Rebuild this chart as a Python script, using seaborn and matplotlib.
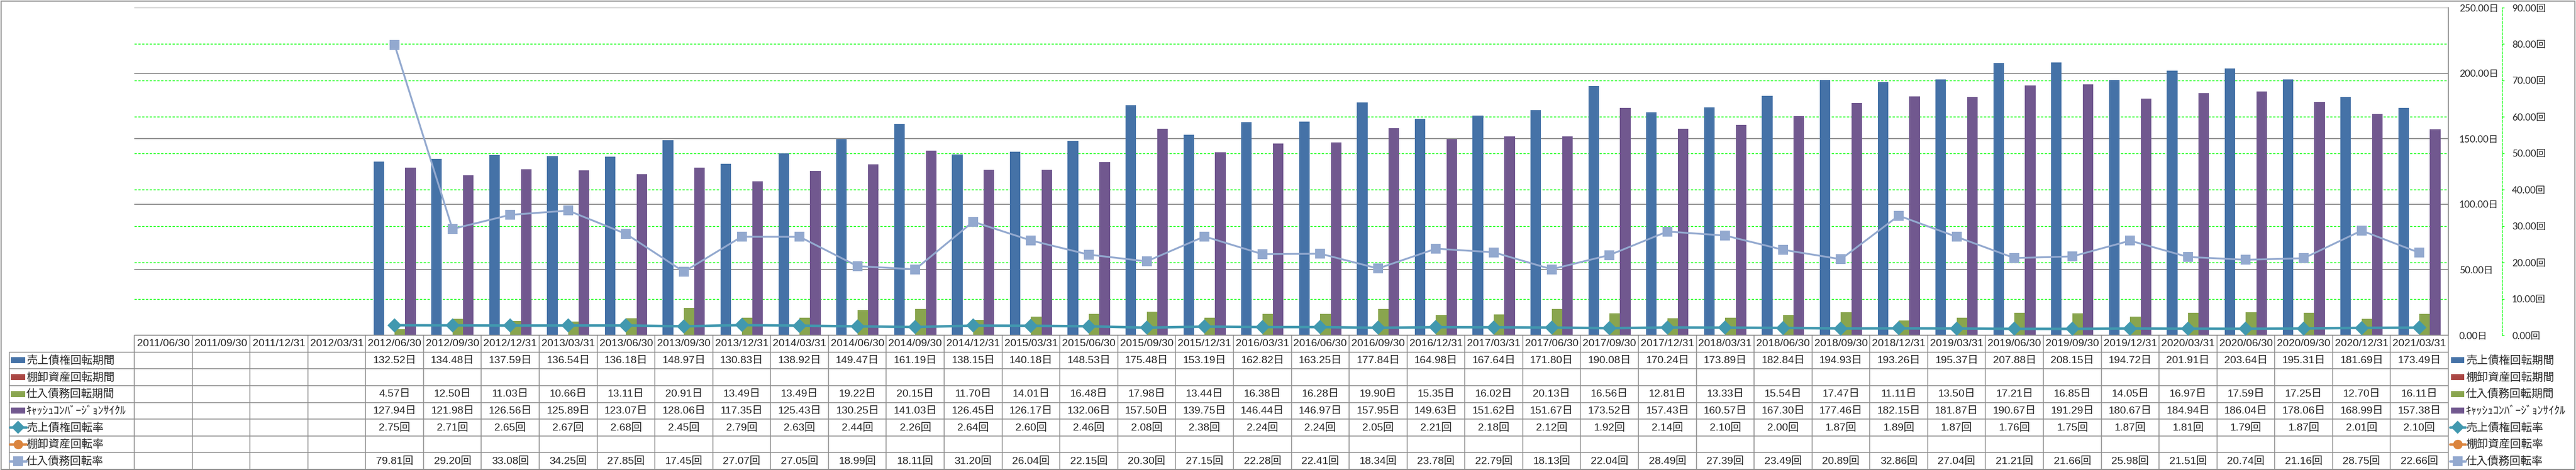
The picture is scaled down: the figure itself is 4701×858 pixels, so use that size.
import numpy as np
import pandas as pd
import matplotlib
matplotlib.use("Agg")
import matplotlib.pyplot as plt
import seaborn as sns
from matplotlib import font_manager
from matplotlib.patches import Rectangle
from matplotlib.ticker import FixedLocator, FuncFormatter

# 決算期（四半期）
dates = [
    "2011/06/30", "2011/09/30", "2011/12/31", "2012/03/31",
    "2012/06/30", "2012/09/30", "2012/12/31", "2013/03/31",
    "2013/06/30", "2013/09/30", "2013/12/31", "2014/03/31",
    "2014/06/30", "2014/09/30", "2014/12/31", "2015/03/31",
    "2015/06/30", "2015/09/30", "2015/12/31", "2016/03/31",
    "2016/06/30", "2016/09/30", "2016/12/31", "2017/03/31",
    "2017/06/30", "2017/09/30", "2017/12/31", "2018/03/31",
    "2018/06/30", "2018/09/30", "2018/12/31", "2019/03/31",
    "2019/06/30", "2019/09/30", "2019/12/31", "2020/03/31",
    "2020/06/30", "2020/09/30", "2020/12/31", "2021/03/31",
]

# 日数（棒）
receivable_days = [
    None, None, None, None,
    132.52, 134.48, 137.59, 136.54, 136.18, 148.97, 130.83, 138.92,
    149.47, 161.19, 138.15, 140.18, 148.53, 175.48, 153.19, 162.82,
    163.25, 177.84, 164.98, 167.64, 171.80, 190.08, 170.24, 173.89,
    182.84, 194.93, 193.26, 195.37, 207.88, 208.15, 194.72, 201.91,
    203.64, 195.31, 181.69, 173.49,
]
inventory_days = [None] * 40
payable_days = [
    None, None, None, None,
    4.57, 12.50, 11.03, 10.66, 13.11, 20.91, 13.49, 13.49,
    19.22, 20.15, 11.70, 14.01, 16.48, 17.98, 13.44, 16.38,
    16.28, 19.90, 15.35, 16.02, 20.13, 16.56, 12.81, 13.33,
    15.54, 17.47, 11.11, 13.50, 17.21, 16.85, 14.05, 16.97,
    17.59, 17.25, 12.70, 16.11,
]
ccc_days = [
    None, None, None, None,
    127.94, 121.98, 126.56, 125.89, 123.07, 128.06, 117.35, 125.43,
    130.25, 141.03, 126.45, 126.17, 132.06, 157.50, 139.75, 146.44,
    146.97, 157.95, 149.63, 151.62, 151.67, 173.52, 157.43, 160.57,
    167.30, 177.46, 182.15, 181.87, 190.67, 191.29, 180.67, 184.94,
    186.04, 178.06, 168.99, 157.38,
]

# 回転率（折れ線）
receivable_turn = [
    None, None, None, None,
    2.75, 2.71, 2.65, 2.67, 2.68, 2.45, 2.79, 2.63,
    2.44, 2.26, 2.64, 2.60, 2.46, 2.08, 2.38, 2.24,
    2.24, 2.05, 2.21, 2.18, 2.12, 1.92, 2.14, 2.10,
    2.00, 1.87, 1.89, 1.87, 1.76, 1.75, 1.87, 1.81,
    1.79, 1.87, 2.01, 2.10,
]
inventory_turn = [None] * 40
payable_turn = [
    None, None, None, None,
    79.81, 29.20, 33.08, 34.25, 27.85, 17.45, 27.07, 27.05,
    18.99, 18.11, 31.20, 26.04, 22.15, 20.30, 27.15, 22.28,
    22.41, 18.34, 23.78, 22.79, 18.13, 22.04, 28.49, 27.39,
    23.49, 20.89, 32.86, 27.04, 21.21, 21.66, 25.98, 21.51,
    20.74, 21.16, 28.75, 22.66,
]

names = [
    "売上債権回転期間", "棚卸資産回転期間", "仕入債務回転期間",
    "ｷｬｯｼｭｺﾝﾊﾞｰｼﾞｮﾝｻｲｸﾙ",
    "売上債権回転率", "棚卸資産回転率", "仕入債務回転率",
]
colors = ["#4572A7", "#AA4643", "#89A54E", "#71588F", "#4198AF", "#DB843D", "#93A9CF"]
markers = [None, None, None, None, "D", "o", "s"]
rows = [receivable_days, inventory_days, payable_days, ccc_days,
        receivable_turn, inventory_turn, payable_turn]

sns.set_style("white")
installed = {f.name for f in font_manager.fontManager.ttflist}
num_font = "Liberation Sans Narrow" if "Liberation Sans Narrow" in installed else "Liberation Sans"
num_size = 16.5 if num_font == "Liberation Sans Narrow" else 14
tick_font = "Lato" if "Lato" in installed else "DejaVu Sans"
plt.rcParams["font.family"] = [tick_font, "Noto Sans CJK JP", "DejaVu Sans"]

W, H = 4701, 858
fig = plt.figure(figsize=(W / 100, H / 100), dpi=100)
x0, x1 = 245, 4468
top, bottom, tbottom = 14, 612, 857
ax = fig.add_axes([x0 / W, 1 - bottom / H, (x1 - x0) / W, (bottom - top) / H])
tab = fig.add_axes([x0 / W, 1 - tbottom / H, (x1 - x0) / W, (tbottom - bottom) / H])
ax2 = ax.twinx()

# 棒グラフ
bars = pd.DataFrame({
    "date": np.tile(dates, 4),
    "series": np.repeat(names[:4], len(dates)),
    "value": np.concatenate([np.array(r, dtype=float) for r in rows[:4]]),
})
sns.barplot(data=bars, x="date", y="value", hue="series", order=dates,
            hue_order=names[:4], palette=colors[:4], width=0.73, saturation=1,
            errorbar=None, linewidth=0, legend=False, ax=ax)

# 折れ線（第2軸）
line_style = {4: dict(markersize=13, linewidth=3.3), 6: dict(markersize=13, linewidth=2.4)}
for i in (4, 5, 6):
    d = pd.DataFrame({"date": dates, "value": np.array(rows[i], dtype=float)}).dropna()
    if d.empty:
        continue
    sns.pointplot(data=d, x="date", y="value", order=dates, color=colors[i],
                  markers=markers[i], errorbar=None, ax=ax2,
                  markeredgewidth=0, **line_style[i])

n = len(dates)
for a in (ax, ax2):
    a.set_xlim(-0.5, n - 0.5)
    a.set_xlabel("")
    a.set_ylabel("")
    a.tick_params(axis="x", bottom=False, labelbottom=False)
    for s in ("left", "top", "bottom"):
        a.spines[s].set_visible(False)

# 第1軸（日）
ax.set_ylim(0, 250)
ax.yaxis.tick_right()
ax.set_yticks(np.arange(0, 251, 50))
ax.yaxis.set_major_formatter(FuncFormatter(lambda v, p: f"{v:.2f}日"))
ax.yaxis.set_minor_locator(FixedLocator(np.arange(10, 90, 10) * 250 / 90))
ax.tick_params(axis="y", which="both", length=0, pad=14.4, labelsize=12.5)
ax.set_axisbelow(True)
ax.grid(False)
ax.grid(which="major", axis="y", color="#8a8a8a", lw=1.3, ls="-")
ax.grid(which="minor", axis="y", color="#00FF00", lw=1.0, ls=(0, (3, 2)))
ax.spines["right"].set_color("#8a8a8a")
ax.spines["right"].set_linewidth(1.3)

# 第2軸（回）
ax2.set_ylim(0, 90)
ax2.set_yticks(np.arange(0, 91, 10))
ax2.yaxis.set_major_formatter(FuncFormatter(lambda v, p: f"{v:.2f}回"))
ax2.grid(False)
ax2.spines["right"].set_position(("outward", 70.6))
ax2.spines["right"].set_color("#00FF00")
ax2.spines["right"].set_linestyle((0, (3, 2)))
ax2.spines["right"].set_linewidth(1.0)
ax2.tick_params(axis="y", color="#00FF00", length=3, width=1, pad=10, labelsize=12.5)

# データテーブル
tab.set_xlim(-0.5, n - 0.5)
tab.set_ylim(8, 0)
tab.axis("off")
unit = (x1 - x0) / n
xl = -0.5 - (x0 - 17) / unit
lk = dict(color="#8c8c8c", lw=1.1, clip_on=False, solid_capstyle="butt")
tab.plot([-0.5, n - 0.5], [0, 0], **lk)
for r in range(1, 9):
    tab.plot([xl, n - 0.5], [r, r], **lk)
for c in range(n + 1):
    tab.plot([c - 0.5, c - 0.5], [0, 8], **lk)
tab.plot([xl, xl], [1, 8], **lk)

numfam = [num_font, "Noto Sans CJK JP"]
for i, d in enumerate(dates):
    tab.text(i, 0.52, d, ha="center", va="center", fontsize=num_size, family=numfam)
for r, vals in enumerate(rows):
    suffix = "日" if r < 4 else "回"
    for i, v in enumerate(vals):
        if v is not None:
            tab.text(i, r + 1.52, f"{v:.2f}{suffix}", ha="center", va="center",
                     fontsize=num_size, family=numfam)


def legend_key(x, y, r, w):
    if markers[r] is None:
        tab.add_patch(Rectangle((x, y - 0.18), w, 0.36, color=colors[r], lw=0, clip_on=False))
    else:
        tab.plot([x - 2 / unit, x + w + 2 / unit], [y, y], color=colors[r], lw=3.3, clip_on=False)
        tab.plot([x + w / 2], [y], marker=markers[r], color=colors[r], ms=12.5,
                 mew=0, clip_on=False)


jp = ["Noto Sans CJK JP", "DejaVu Sans"]
for r, name in enumerate(names):
    y = r + 1.5
    legend_key(xl + 3 / unit, y, r, 26 / unit)
    tab.text(xl + 31 / unit, y + 0.02, name, ha="left", va="center", fontsize=14.5, family=jp)
    # 右側の凡例
    legend_key(n - 0.5 + 5 / unit, y, r, 24 / unit)
    tab.text(n - 0.5 + 32 / unit, y + 0.02, name, ha="left", va="center", fontsize=14.5,
             family=jp, clip_on=False)

fig.patches.append(Rectangle((0.0004, 0.001), 0.9992, 0.997, transform=fig.transFigure,
                             fill=False, ec="#8c8c8c", lw=1.5))

fig.savefig("out.png", dpi=100)
